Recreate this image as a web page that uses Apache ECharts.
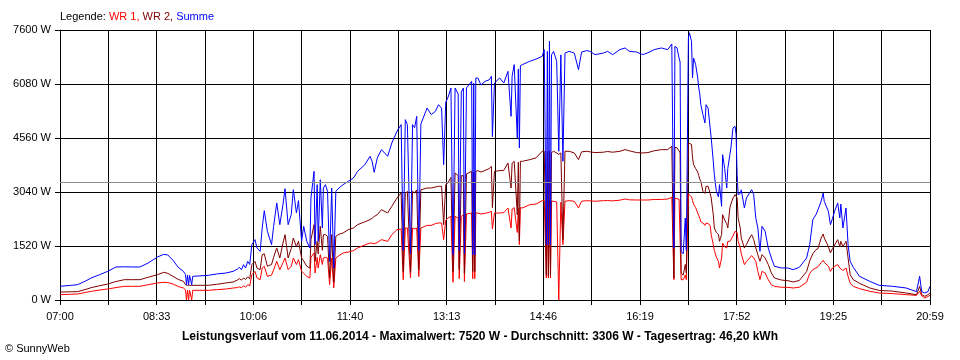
<!DOCTYPE html>
<html>
<head>
<meta charset="utf-8">
<script src="https://cdn.jsdelivr.net/npm/echarts@6/dist/echarts.min.js"></script>
<style>
html,body{margin:0;padding:0;background:#fff;}
#chart{width:960px;height:360px;}
</style>
</head>
<body>
<div id="chart"></div>
<script>
// minutes after 07:00
var minutes = [0,10,17,25,30,38,46,54,62,70,77,85,94,100,104,109,114,119,121,122,123,124,125,127,128,143,151,160,167,171,173,175,177,179,181,183,185,188,190,193,195,197,200,204,206,209,212,215,217,220,223,225,228,230,233,235,238,241,242,245,246,248,249,251,253,254,256,258,260,262,264,266,269,273,278,283,287,294,299,301,303,306,310,316,320,325,329,331,333,335,338,340,342,344,346,348,354,358,362,365,368,370,372,374,377,379,381,384,385,387,389,390,392,397,398,399,400,401,403,406,410,414,416,417,419,424,428,432,435,436,438,441,442,443,444,446,453,459,465,467,469,470,471,472,473,474,476,479,481,483,485,487,491,496,500,503,508,511,516,524,528,533,540,545,549,556,562,567,573,580,586,590,591,592,593,595,597,598,599,601,603,604,606,607,609,610,611,613,615,616,617,618,620,622,623,625,627,628,630,631,633,635,636,638,639,641,643,644,646,647,649,651,652,653,654,656,657,660,662,665,667,669,671,673,675,677,680,683,686,689,696,702,707,713,720,723,726,729,731,734,736,737,741,743,745,747,750,752,753,755,758,760,762,765,771,781,790,803,816,826,829,831,834,837,839];
var summe = [386,410,431,540,619,710,807,929,935,929,929,1041,1210,1286,1267,1117,920,807,720,431,700,431,690,431,666,694,732,760,807,870,920,850,995,900,1088,1000,1558,1699,1464,1370,2027,2515,1933,1558,2074,2731,2121,2684,3134,2121,2402,3106,2449,2796,1652,2074,1652,1464,2871,3622,1558,3247,1652,3387,2027,3153,3247,3059,1088,3153,901,3059,3153,3247,3340,3434,3622,3810,4045,3900,3594,4000,4232,4045,4420,4749,4936,1400,5076,4936,1300,4936,4850,5170,1400,4950,5405,5217,5311,5498,5400,3810,5570,5686,5968,1276,5968,5800,1400,5850,5968,1300,5968,6156,1276,6100,1276,6249,6249,6050,6156,6200,6296,4600,6108,6249,6108,6437,5170,6300,6625,4560,6500,4279,6600,6625,6719,6780,6860,7047,1558,7000,1558,7282,1558,6900,7000,6719,4186,6900,3904,6950,7000,6950,6484,6980,7020,7000,6906,6950,7000,6906,7050,7094,7000,6980,6906,6960,7047,7094,7047,7206,7150,1464,7140,7100,6812,6700,1370,1300,2308,1400,7375,7520,7282,6250,6812,6625,6249,5968,5800,5498,5217,4983,5498,5400,4842,4561,3904,3528,3059,2900,3247,2637,4092,3700,3153,3700,4092,4279,4842,4889,4655,3528,2965,3000,3100,2590,2871,3012,3106,2965,2308,2027,1370,2074,1933,1464,1182,948,901,901,854,920,1182,1558,2262,2402,2543,2778,3012,2778,2496,2121,2300,2496,2731,2308,2700,2027,2590,1558,1088,920,666,525,413,385,338,235,666,235,197,235,385];
var wr2 = [225,230,236,300,347,400,450,520,572,572,572,640,713,779,750,666,580,525,430,413,413,413,413,413,413,413,440,480,507,560,600,560,619,580,650,600,995,1088,900,854,1276,1300,950,1000,1200,1464,1182,1600,1839,1182,1450,1745,1500,1652,1182,1100,948,901,1700,2121,1088,1652,1300,2074,1400,1839,1839,1792,620,1839,500,1792,1850,1886,1980,2027,2121,2200,2262,2300,2350,2400,2543,2450,2637,2871,3012,800,3000,3059,800,3059,3012,3100,850,3100,3153,3153,3180,3200,3200,2121,3250,3293,3450,800,3575,3500,850,3500,3500,750,3550,3622,800,3600,800,3622,3640,3600,3650,3700,3763,2600,3622,3640,3650,3857,3153,3850,3904,2400,3880,1660,3904,3904,3950,4000,4186,4186,700,4186,666,4200,700,4150,4186,4139,4100,4139,1700,4186,4186,4139,3950,4170,4186,4170,4150,4160,4180,4160,4186,4232,4200,4150,4139,4150,4200,4232,4232,4326,4300,619,4300,4280,4200,4139,760,700,1000,760,4420,4420,4380,4000,3810,3700,3600,3500,3400,3340,3059,3000,3200,3200,3000,2871,2402,2027,1900,1839,1652,1839,2402,2250,2150,2027,2590,2700,2871,2965,2965,2871,2300,2027,1745,1464,1558,1745,1839,1700,1464,1276,1088,1276,1182,1000,760,619,560,544,507,550,800,1100,1300,1417,1450,1745,1858,1750,1500,1323,1450,1550,1699,1500,1652,1500,1652,1182,713,572,470,338,270,250,197,150,385,150,103,150,200];
var wr1 = [150,160,169,215,244,280,310,350,385,385,385,430,479,497,490,450,380,338,290,0,280,0,275,0,272,272,290,310,338,350,370,340,400,360,430,400,713,807,620,572,901,950,666,700,850,1088,854,1050,1182,854,950,1182,1000,1135,807,750,666,619,1200,1323,760,1200,900,1276,1000,1182,1200,1182,431,1182,338,1182,1250,1323,1351,1389,1464,1550,1605,1600,1580,1620,1699,1650,1839,1980,2000,572,2027,2027,620,2027,2000,2027,660,2027,2100,2100,2150,2168,2168,1700,2250,2300,2355,500,2355,2300,600,2350,2400,520,2420,2449,600,2440,600,2449,2449,2420,2440,2470,2496,2000,2449,2449,2460,2590,2027,2560,2600,1900,2590,1558,2600,2590,2684,2700,2796,2796,619,2796,619,2800,619,2780,2780,2760,0,2750,1558,2780,2796,2780,2590,2780,2796,2790,2780,2796,2800,2790,2810,2843,2820,2815,2815,2815,2830,2830,2843,2890,2880,572,2870,2850,2840,2815,572,572,700,572,2990,2990,2900,2800,2700,2600,2450,2402,2300,2200,2168,2100,2168,2150,2100,1839,1558,1400,1200,1088,901,1182,1600,1500,1464,1650,1650,1650,1800,1933,1950,1900,1650,1464,1300,995,1088,1182,1250,1180,1088,807,572,807,760,572,431,385,357,357,338,360,500,750,854,901,940,1050,1117,1060,950,807,901,950,995,900,950,830,900,666,479,385,320,244,197,180,150,130,244,120,56,100,130];
var tickLabels = ['07:00','08:33','10:06','11:40','13:13','14:46','16:19','17:52','19:25','20:59'];
var yTicks = [0,1520,3040,4560,6080,7600];
var averageW = 3306;
var spanMin = 839;

function pairs(v){ return minutes.map(function(t,i){ return [t, v[i]]; }); }

var FONT = 'Liberation Sans, Arial, sans-serif';
var chart = echarts.init(document.getElementById('chart'), null, {renderer:'canvas'});
var option = {
  animation:false,
  backgroundColor:'#ffffff',
  grid:{left:60, top:30, right:30, bottom:60, containLabel:false},
  xAxis:{
    type:'value', min:0, max:spanMin, interval:spanMin/18,
    axisLine:{show:true, lineStyle:{color:'#000', width:1}},
    axisTick:{show:true, length:5, inside:false, lineStyle:{color:'#000'}},
    splitLine:{show:true, lineStyle:{color:'#000', width:1}},
    axisLabel:{
      margin:11, color:'#000', fontFamily:FONT, fontSize:11,
      showMinLabel:true, showMaxLabel:true,
      formatter:function(v){
        var k = v/(spanMin/9);
        var r = Math.round(k);
        if (Math.abs(k-r) < 0.02) return tickLabels[r];
        return '';
      }
    }
  },
  yAxis:{
    type:'value', min:yTicks[0], max:yTicks[yTicks.length-1], interval:yTicks[1]-yTicks[0],
    axisLine:{show:true, lineStyle:{color:'#000', width:1}},
    axisTick:{show:true, length:5, inside:false, lineStyle:{color:'#000'}},
    splitLine:{show:true, lineStyle:{color:'#000', width:1}},
    axisLabel:{margin:9, color:'#000', fontFamily:FONT, fontSize:11,
      formatter:function(v){ return String(Math.round(v)) + ' W'; }}
  },
  series:[
    {name:'WR 1', type:'line', data:pairs(wr1), showSymbol:false, symbol:'none',
      lineStyle:{color:'#ff0000', width:1}, itemStyle:{color:'#ff0000'},
      markLine:{silent:true, symbol:'none', label:{show:false},
        lineStyle:{color:'#8c8c8c', type:'solid', width:1},
        data:[{yAxis:averageW}]}},
    {name:'WR 2', type:'line', data:pairs(wr2), showSymbol:false, symbol:'none',
      lineStyle:{color:'#800000', width:1}, itemStyle:{color:'#800000'}},
    {name:'Summe', type:'line', data:pairs(summe), showSymbol:false, symbol:'none',
      lineStyle:{color:'#0000ff', width:1}, itemStyle:{color:'#0000ff'}}
  ],
  graphic:[
    {type:'text', left:60, top:11, style:{
      text:'{k|Legende: }{a|WR 1, }{b|WR 2, }{c|Summe}',
      rich:{
        k:{fill:'#000', fontFamily:FONT, fontSize:11},
        a:{fill:'#ff0000', fontFamily:FONT, fontSize:11},
        b:{fill:'#800000', fontFamily:FONT, fontSize:11},
        c:{fill:'#0000ff', fontFamily:FONT, fontSize:11}
      }}},
    {type:'text', x:480, y:337, style:{
      text:'Leistungsverlauf vom 11.06.2014 - Maximalwert: 7520 W - Durchschnitt: 3306 W - Tagesertrag: 46,20 kWh',
      fill:'#000', font:'bold 12px Liberation Sans, Arial, sans-serif', align:'center', verticalAlign:'middle'}},
    {type:'text', x:5, y:349, style:{
      text:'\u00A9 SunnyWeb', fill:'#000', font:'11px Liberation Sans, Arial, sans-serif', align:'left', verticalAlign:'middle'}}
  ]
};
chart.setOption(option);
</script>
</body>
</html>
